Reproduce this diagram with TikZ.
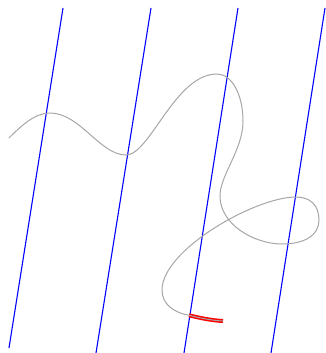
\documentclass[tikz,border=0pt]{standalone}
\begin{document}
\begin{tikzpicture}[x=1bp, y=-1bp,
    gridline/.style={blue, line width=1.1bp},
    curveline/.style={gray!70, line width=1bp},
    endmark/.style={red, line width=4bp}]
    \useasboundingbox (0,0) rectangle (326,353);
    \foreach \tx/\bx/\by in {63/9/348, 151/96/353, 238/184/353, 325/271/353}
      \draw[gridline] (\tx,8) -- (\bx,\by);
    % red end piece under the curve
    \draw[endmark] (189,315.3) .. controls (200,318) and (212,320.5) .. (223,321);
    \draw[curveline] (9,138) .. controls (22,125) and (35,113) .. (50,113)
      .. controls (80,113) and (100,155) .. (126,155)
      .. controls (150,155) and (175,74) .. (217,74)
      .. controls (232,74) and (243,95) .. (243,121)
      .. controls (243,150) and (220,175) .. (220,196)
      .. controls (220,225) and (255,244) .. (282,244)
      .. controls (305,244) and (319,235) .. (319,220)
      .. controls (319,205) and (310,197) .. (296,197)
      .. controls (255,197) and (162,250) .. (162,290)
      .. controls (162,305) and (175,313) .. (190,315.5)
      .. controls (200,318) and (212,320.5) .. (223,321);
  \end{tikzpicture}
\end{document}
